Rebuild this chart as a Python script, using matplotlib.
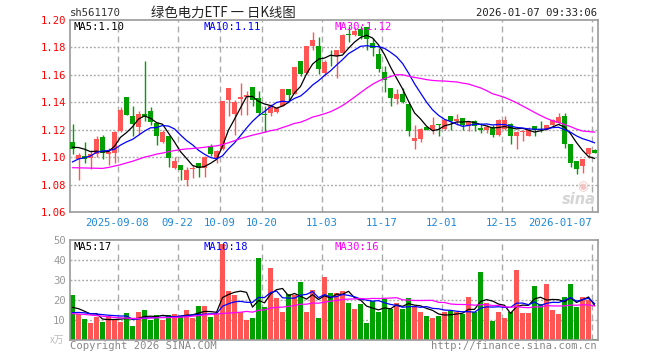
import matplotlib
matplotlib.use("Agg")
import matplotlib.pyplot as plt
import numpy as np
import pandas as pd

plt.rcParams['lines.scale_dashes'] = False

# ---------------- data ----------------
tick_idx = [8, 18, 25, 32, 42, 52, 62, 72, 87]
tick_labels = ["2025-09-08", "09-22", "10-09", "10-20", "11-03", "11-17",
               "12-01", "12-15", "2026-01-07"]

opens = [1.1112, 1.0987, 1.1009, 1.0991, 1.1023, 1.1148, 1.1020, 1.1033, 1.1192, 1.1435,
         1.1303, 1.1219, 1.1317, 1.1339, 1.1246, 1.1114, 1.1156, 1.0923, 1.0942, 1.0832,
         1.0911, 1.0957, 1.0923, 1.1082, 1.0991, 1.1058, 1.1420, 1.1317, 1.1425, 1.1437,
         1.1508, 1.1428, 1.1317, 1.1322, 1.1327, 1.1371, 1.1499, 1.1464, 1.1700, 1.1616,
         1.1812, 1.1812, 1.1616, 1.1719, 1.1734, 1.1763, 1.1898, 1.1893, 1.1935, 1.1947,
         1.1832, 1.1751, 1.1621, 1.1501, 1.1425, 1.1457, 1.1384, 1.1121, 1.1134, 1.1217,
         1.1200, 1.1241, 1.1207, 1.1298, 1.1261, 1.1288, 1.1229, 1.1261, 1.1210, 1.1195,
         1.1222, 1.1163, 1.1207, 1.1241, 1.1151, 1.1183, 1.1156, 1.1227, 1.1207, 1.1200,
         1.1236, 1.1249, 1.1298, 1.1097, 1.0972, 1.0935, 1.1021, 1.1053]
highs = [1.1244, 1.1028, 1.1112, 1.1053, 1.1151, 1.1163, 1.1070, 1.1187, 1.1369, 1.1435,
         1.1376, 1.1339, 1.1700, 1.1369, 1.1246, 1.1200, 1.1156, 1.1004, 1.0942, 1.0930,
         1.0942, 1.0960, 1.1009, 1.1097, 1.1053, 1.1413, 1.1506, 1.1415, 1.1543, 1.1481,
         1.1508, 1.1484, 1.1376, 1.1391, 1.1366, 1.1499, 1.1499, 1.1658, 1.1700, 1.1812,
         1.1910, 1.1874, 1.1709, 1.1780, 1.1780, 1.1900, 1.1959, 1.1947, 1.1959, 1.1947,
         1.1866, 1.1793, 1.1665, 1.1501, 1.1499, 1.1501, 1.1384, 1.1237, 1.1210, 1.1217,
         1.1290, 1.1241, 1.1278, 1.1303, 1.1317, 1.1288, 1.1266, 1.1273, 1.1249, 1.1237,
         1.1237, 1.1278, 1.1303, 1.1249, 1.1187, 1.1200, 1.1220, 1.1227, 1.1261, 1.1236,
         1.1278, 1.1322, 1.1322, 1.1097, 1.0972, 1.0984, 1.1065, 1.1058]
lows = [1.1023, 1.0832, 1.0955, 1.0911, 1.0999, 1.0984, 1.0940, 1.0960, 1.1185, 1.1305,
        1.1151, 1.1170, 1.1261, 1.1232, 1.1092, 1.1102, 1.0930, 1.0913, 1.0830, 1.0793,
        1.0849, 1.0852, 1.0857, 1.1005, 1.0955, 1.1053, 1.1298, 1.1163, 1.1310, 1.1305,
        1.1371, 1.1310, 1.1180, 1.1303, 1.1322, 1.1371, 1.1408, 1.1457, 1.1592, 1.1604,
        1.1783, 1.1609, 1.1592, 1.1665, 1.1580, 1.1758, 1.1842, 1.1886, 1.1861, 1.1780,
        1.1734, 1.1621, 1.1474, 1.1371, 1.1384, 1.1396, 1.1156, 1.1063, 1.1107, 1.1195,
        1.1170, 1.1151, 1.1200, 1.1200, 1.1236, 1.1200, 1.1188, 1.1188, 1.1175, 1.1175,
        1.1146, 1.1156, 1.1200, 1.1094, 1.1063, 1.1121, 1.1151, 1.1156, 1.1180, 1.1200,
        1.1224, 1.1241, 1.1065, 1.0930, 1.0874, 1.0886, 1.0991, 1.1028]
closes = [1.1058, 1.1016, 1.0989, 1.1021, 1.1134, 1.1028, 1.1035, 1.1180, 1.1347, 1.1305,
          1.1241, 1.1317, 1.1293, 1.1259, 1.1151, 1.1180, 1.0991, 1.0972, 1.0906, 1.0906,
          1.0923, 1.0918, 1.1004, 1.1023, 1.1048, 1.1408, 1.1506, 1.1401, 1.1435, 1.1452,
          1.1420, 1.1322, 1.1310, 1.1376, 1.1357, 1.1499, 1.1455, 1.1658, 1.1609, 1.1812,
          1.1856, 1.1641, 1.1695, 1.1712, 1.1780, 1.1893, 1.1891, 1.1918, 1.1881, 1.1861,
          1.1793, 1.1641, 1.1562, 1.1428, 1.1457, 1.1403, 1.1188, 1.1138, 1.1207, 1.1195,
          1.1236, 1.1234, 1.1273, 1.1261, 1.1278, 1.1236, 1.1254, 1.1229, 1.1197, 1.1222,
          1.1163, 1.1268, 1.1268, 1.1151, 1.1180, 1.1187, 1.1200, 1.1195, 1.1200, 1.1236,
          1.1268, 1.1293, 1.1097, 1.0960, 1.0913, 1.0984, 1.1065, 1.1033]
volumes = [22.4, 13.0, 10.2, 8.2, 11.4, 8.6, 11.6, 10.5, 9.0, 13.2,
           6.8, 13.9, 14.9, 9.8, 12.2, 9.9, 12.2, 12.7, 11.7, 14.6,
           10.7, 16.8, 16.8, 11.2, 12.8, 47.8, 24.5, 22.4, 14.0, 9.8,
           10.7, 41.2, 16.4, 36.1, 20.8, 13.7, 22.9, 22.2, 29.0, 13.7,
           24.9, 10.7, 31.5, 23.4, 23.4, 24.5, 18.3, 15.3, 17.8, 8.1,
           19.5, 13.7, 20.4, 15.3, 18.3, 15.5, 20.8, 16.4, 13.7, 11.7,
           10.7, 11.7, 13.7, 14.2, 13.7, 12.7, 21.4, 13.7, 34.1, 18.3,
           9.2, 13.7, 10.7, 13.7, 35.1, 13.2, 13.2, 26.9, 17.8, 28.0,
           14.7, 12.7, 21.4, 28.0, 16.3, 21.4, 19.8, 0.5]

# moving-average values at the left edge (history before the window)
ma5_head = [1.1072, 1.1070, 1.1058, 1.1040]
ma10_head = [1.0965, 1.0987, 1.0996, 1.1009, 1.1035, 1.1045, 1.1048, 1.1058, 1.1088]
ma30_head = [1.0923, 1.0922, 1.0921, 1.0920, 1.0919, 1.0918, 1.0925, 1.0935, 1.0945, 1.0958,
             1.0970, 1.0985, 1.1000, 1.1010, 1.1022, 1.1030, 1.1040, 1.1048, 1.1055, 1.1060,
             1.1063, 1.1067, 1.1072, 1.1078, 1.1082, 1.1092, 1.1105, 1.1120, 1.1135]
vma5_head = [16.1, 15.5, 14.2, 12.8]
vma10_head = [13.5, 13.6, 13.4, 13.0, 12.8, 12.5, 12.2, 12.0, 11.8]
vma30_head = [13.0, 12.8, 12.6, 12.3, 12.0, 11.7, 11.4, 11.1, 10.9, 10.7,
              10.6, 10.6, 10.7, 10.8, 10.9, 11.0, 11.0, 11.1, 11.2, 11.4,
              11.7, 12.0, 12.4, 12.6, 12.8, 13.1, 13.3, 13.5, 13.7]

header_code = "sh561170"
title = "绿色电力ETF 一 日K线图"
timestamp = "2026-01-07 09:33:06"
price_ma_labels = ["MA5:1.10", "MA10:1.11", "MA30:1.12"]
vol_ma_labels = ["MA5:17", "MA10:18", "MA30:16"]

# ---------------- styling ----------------
RED = "#FF5555"
GREEN = "#00A000"
MA_COLORS = ["#000000", "#0000FF", "#FF00FF"]
GRID = "#AAAAAA"
SPINE = "#999999"
DATE_C = "#1E88D8"
MONO = "DejaVu Sans Mono"
W, H = 660, 360


def ma_series(values, n, head):
    s = pd.Series(values).rolling(n).mean().to_numpy()
    s[:len(head)] = head
    return s


o = np.array(opens); h = np.array(highs); l = np.array(lows); c = np.array(closes)
v = np.array(volumes)
x = np.arange(len(c))
up = c >= o
cols = np.where(up, RED, GREEN)

fig = plt.figure(figsize=(W / 100, H / 100), dpi=100)
fig.patch.set_facecolor("white")


def fx(px):
    return px / W


def fy(py):
    return 1 - py / H


ax = fig.add_axes([fx(70), fy(212), 528 / W, 192 / H])
axv = fig.add_axes([fx(70), fy(339.5), 528 / W, 99.5 / H])

for a in (ax, axv):
    a.set_xlim(-0.42, len(c) - 0.42)
    for s in a.spines.values():
        s.set_color(SPINE)
        s.set_linewidth(1.2)
    a.tick_params(length=0)
    for t in tick_idx:
        a.axvline(t - 0.5, color=GRID, lw=1.0, dashes=(4.3, 2.9), zorder=0)

# price panel
ax.set_ylim(1.06, 1.20)
for yv in [1.08, 1.10, 1.12, 1.14, 1.16, 1.18]:
    ax.axhline(yv, color=GRID, lw=1.0, dashes=(1.4, 1.4), zorder=0)
ax.set_yticks([1.06, 1.08, 1.10, 1.12, 1.14, 1.16, 1.18, 1.20])
ax.set_yticklabels(["%.2f" % t for t in ax.get_yticks()], color="#FF0000",
                   fontfamily=MONO, fontsize=7.6)
ax.tick_params(axis="y", pad=3)
ax.set_xticks([t - 0.5 for t in tick_idx])
ax.set_xticklabels(tick_labels, color=DATE_C, fontfamily=MONO, fontsize=7.6)
ax.tick_params(axis="x", pad=4)
ax.get_xticklabels()[-1].set_horizontalalignment("right")

body = np.abs(c - o)
body = np.maximum(body, 0.0007)
ax.vlines(x, l, h, colors=cols, lw=1.0, zorder=2)
ax.bar(x, body, bottom=np.minimum(o, c), width=0.82, color=cols,
       linewidth=0, zorder=3)

for n, head, col in zip((5, 10, 30), (ma5_head, ma10_head, ma30_head), MA_COLORS):
    ax.plot(x, ma_series(closes, n, head), color=col, lw=0.9, zorder=4)

# volume panel
axv.set_ylim(0, 50)
for yv in [10, 20, 30, 40]:
    axv.axhline(yv, color=GRID, lw=1.0, dashes=(1.4, 1.4), zorder=0)
axv.set_yticks([10, 20, 30, 40, 50])
axv.set_yticklabels(["10", "20", "30", "40", "50"], color="#999999",
                    fontfamily=MONO, fontsize=7.6)
axv.tick_params(axis="y", pad=3)
axv.set_xticks([])
axv.bar(x, v, width=0.9, color=cols, linewidth=0, zorder=2)
for n, head, col in zip((5, 10, 30), (vma5_head, vma10_head, vma30_head), MA_COLORS):
    axv.plot(x, ma_series(volumes, n, head), color=col, lw=0.9, zorder=4)

# texts
fig.text(fx(70), fy(13), header_code, fontfamily=MONO, fontsize=7.6,
         color="#333333", ha="left", va="center")
fig.text(fx(223.5), fy(13), title, fontfamily=["Noto Sans CJK SC", "DejaVu Sans"],
         fontsize=9.6, color="#222222", ha="center", va="center")
fig.text(fx(597), fy(13), timestamp, fontfamily=MONO, fontsize=7.6,
         color="#222222", ha="right", va="center")

for lbl, px, col in zip(price_ma_labels, (74, 204, 334.5), MA_COLORS):
    fig.text(fx(px), fy(26.5), lbl, fontfamily=MONO, fontsize=7.6, color=col,
             ha="left", va="center")
for lbl, px, col in zip(vol_ma_labels, (74, 204, 334.5), MA_COLORS):
    fig.text(fx(px), fy(246.5), lbl, fontfamily=MONO, fontsize=7.6, color=col,
             ha="left", va="center")

fig.text(fx(64), fy(340), "x万", fontfamily=["Noto Sans CJK SC", "DejaVu Sans"],
         fontsize=7, color="#BBBBBB", ha="right", va="center")
fig.text(fx(70), fy(346), "Copyright 2026 SINA.COM", fontfamily=MONO, fontsize=7.6,
         color="#888888", ha="left", va="center")
fig.text(fx(597), fy(346), "http://finance.sina.com.cn", fontfamily=MONO, fontsize=7.6,
         color="#888888", ha="right", va="center")
# sina watermark (eye logo + word)
fig.text(fx(583), fy(187), "◉", fontfamily="DejaVu Sans", fontsize=9,
         color="#F4C4C4", ha="center", va="center")
fig.text(fx(579), fy(200), "sina", fontfamily="DejaVu Sans", fontsize=10.5,
         fontstyle="italic", fontweight="bold", color="#D5D5D5", ha="center", va="center")

fig.savefig("out.png", dpi=100)
